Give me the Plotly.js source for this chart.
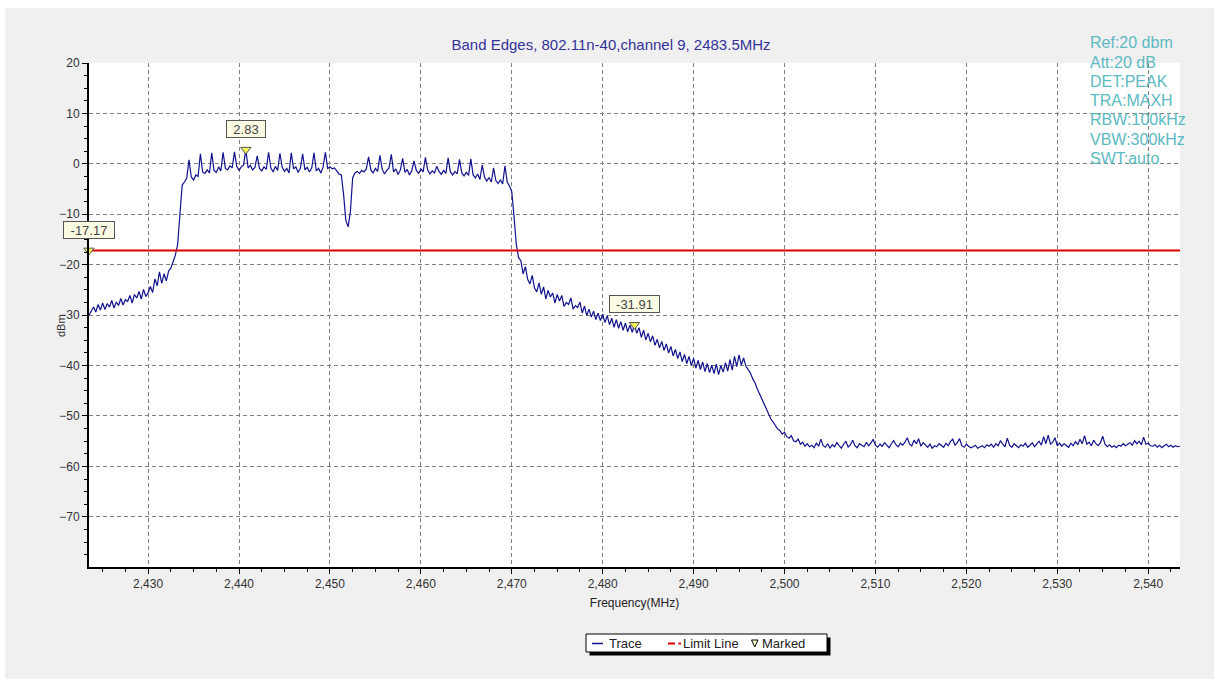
<!DOCTYPE html>
<html>
<head>
<meta charset="utf-8">
<script src="https://cdn.plot.ly/plotly-3.0.1.min.js"></script>
<style>
  html, body { margin: 0; padding: 0; background: #ffffff; }
  #chart { position: absolute; left: 5px; top: 8px; width: 1209px; height: 671px; }
</style>
</head>
<body>
<div id="chart"></div>
<script>
// ---- sweep grid (spectrum analyser span 2423.5 - 2543.5 MHz) ----
const FREQ_STEP = 0.25;
const X_RANGE = [2423.5, 2543.5];
const Y_RANGE = [-79.95, 20];

// ---- trace levels (dBm), segment by segment ----
// 2423.5 - 2433.25 MHz : lower skirt
const lowerSkirt = [-30.0,-29.3,-28.4,-29.4,-27.9,-29.0,-27.6,-28.9,-27.7,-28.4,
  -27.1,-28.6,-27.4,-28.1,-26.7,-28.0,-26.9,-27.3,-26.1,-27.6,
  -25.9,-26.6,-25.3,-26.8,-24.9,-26.3,-25.6,-24.3,-25.5,-22.8,
  -24.2,-21.4,-23.7,-21.8,-23.2,-21.3,-20.7,-19.4,-18.1,-16.0];
// 2433.5 - 2452.75 MHz : lower half of the occupied band, DC notch
const bandLower = [-9.5,-4.2,-3.6,-2.8,0.8,-2.6,-3.2,-2.2,-2.5,2.0,
  -1.6,-1.9,-1.2,-1.8,2.2,-1.3,-1.7,-0.6,-1.4,2.3,
  -0.9,-1.2,-0.4,-0.8,2.4,-0.5,-1.3,-0.6,-0.2,2.83,
  -0.8,-0.3,-1.2,-0.7,1.6,-0.9,-1.4,-0.6,-1.1,2.3,
  -0.8,-1.6,-0.5,-1.3,2.1,-0.7,-1.5,-0.9,-1.8,2.2,
  -1.0,-0.6,-1.7,-0.9,2.0,-1.2,-0.7,-1.6,-0.8,2.2,
  -1.4,-0.9,-1.8,-0.6,2.3,-0.9,-0.6,-1.0,-0.8,-1.4,
  -2.0,-2.2,-6.0,-11.2,-12.5,-9.5,-2.8,-1.8];
// 2453.0 - 2470.0 MHz : upper half of the occupied band
const bandUpper = [-1.5,-1.9,-1.3,-1.6,-1.0,1.4,-1.2,-1.8,-0.9,-1.5,
  1.7,-1.1,-2.0,-1.3,-0.8,1.9,-1.6,-1.0,-2.1,-1.2,
  1.1,-1.7,-1.1,-2.2,-1.4,0.6,-1.3,-1.9,-1.0,-1.6,
  1.3,-1.2,-2.0,-1.4,-1.8,-0.5,-1.5,-2.1,-1.3,-1.9,
  1.2,-1.6,-2.2,-1.5,-2.0,0.9,-1.8,-2.4,-1.7,-2.3,
  1.0,-2.2,-2.8,-2.0,-3.1,-0.2,-2.6,-3.4,-2.7,-3.6,
  -0.8,-3.3,-3.9,-3.2,-4.0,-0.4,-3.6,-4.4,-5.5];
// 2470.25 - 2502.75 MHz : upper band edge and roll-off
const upperEdge = [-10.5,-16.0,-18.6,-19.2,-21.8,-20.4,-22.9,-23.8,-22.1,-24.6,
  -25.4,-23.6,-25.9,-24.4,-26.8,-25.1,-26.4,-25.6,-27.6,-25.9,
  -27.2,-26.1,-28.3,-27.5,-27.9,-26.6,-28.8,-28.1,-28.5,-27.4,
  -29.6,-28.2,-30.1,-28.8,-30.4,-29.2,-30.9,-29.6,-31.1,-29.8,
  -31.5,-30.1,-31.9,-30.6,-32.4,-30.9,-32.6,-31.3,-33.0,-31.6,
  -33.3,-32.0,-33.4,-31.91,-33.6,-32.5,-34.4,-33.0,-34.9,-33.6,
  -35.3,-34.1,-36.0,-34.8,-36.5,-35.2,-37.0,-35.7,-37.5,-36.2,
  -38.1,-36.8,-38.6,-37.3,-39.2,-37.8,-39.6,-38.2,-40.0,-38.6,
  -40.5,-39.0,-40.8,-39.3,-41.2,-39.6,-41.4,-39.9,-41.6,-39.7,
  -41.8,-40.0,-41.3,-39.4,-41.1,-38.8,-40.9,-38.2,-40.2,-37.9,
  -39.9,-38.5,-40.1,
  -40.8,-41.5,-42.6,-43.4,-44.6,-45.6,-46.8,-47.5,-48.6,-49.6,
  -50.6,-51.2,-52.0,-52.6,-52.9,-53.6,-53.2,-54.1,-54.4,-53.9,
  -54.9,-55.1,-54.6,-55.6,-55.2,-56.0,-55.5,-56.1];
// 2503.0 - 2543.5 MHz : noise floor
const noiseFloor = [-55.8,-56.3,-55.4,-56.0,-54.6,-55.9,-56.2,-55.5,-56.4,-55.7,
  -56.1,-55.3,-55.9,-56.4,-55.6,-55.0,-56.2,-55.7,-54.8,-55.9,
  -56.3,-55.5,-55.8,-56.1,-55.2,-55.9,-55.4,-54.6,-55.8,-56.2,
  -55.6,-56.0,-55.3,-55.9,-56.3,-55.5,-54.9,-55.7,-56.1,-55.4,
  -55.8,-55.2,-54.3,-55.6,-55.9,-54.8,-55.5,-54.5,-56.0,-55.3,
  -55.7,-56.2,-55.6,-56.4,-55.9,-56.1,-55.5,-55.8,-56.2,-55.4,
  -55.9,-55.1,-54.6,-55.8,-55.3,-54.5,-55.9,-56.2,-55.6,-56.0,
  -56.3,-56.1,-55.8,-56.4,-56.2,-55.9,-56.3,-55.7,-56.0,-55.6,
  -56.2,-55.5,-55.9,-54.9,-55.6,-56.1,-54.4,-55.8,-56.2,-55.5,
  -55.9,-56.3,-55.7,-56.0,-55.4,-56.2,-55.8,-55.3,-56.1,-55.6,
  -55.0,-55.8,-54.1,-55.5,-53.8,-55.6,-55.2,-54.3,-55.9,-55.4,
  -56.0,-55.5,-55.8,-56.2,-55.4,-55.9,-55.1,-55.7,-54.6,-55.5,
  -53.9,-55.6,-55.2,-55.9,-54.8,-55.5,-55.9,-55.3,-54.0,-55.6,
  -56.1,-55.7,-56.2,-55.9,-56.3,-55.8,-56.0,-55.5,-55.9,-55.6,
  -55.3,-55.8,-54.9,-55.5,-55.0,-55.7,-54.2,-55.6,-55.4,-55.9,
  -56.0,-55.7,-56.2,-55.8,-56.3,-55.9,-55.6,-56.1,-55.8,-56.2,
  -55.9,-56.1,-56.0];

const segmentStarts = [2423.5, 2433.5, 2453.0, 2470.25, 2503.0];
const segmentValues = [lowerSkirt, bandLower, bandUpper, upperEdge, noiseFloor];

// ---- limit line and markers ----
const limitLevel = -17.17;
const markerFreqs  = [2423.5, 2440.75, 2483.5];
const markerLevels = [-17.17, 2.83, -31.91];
const markerLabels = ['-17.17', '2.83', '-31.91'];

// ---- texts ----
const titleText = 'Band Edges, 802.11n-40,channel 9, 2483.5MHz';
const settingsLines = ['Ref:20 dbm', 'Att:20 dB', 'DET:PEAK', 'TRA:MAXH', 'RBW:100kHz', 'VBW:300kHz', 'SWT:auto'];
const legendNames = ['Trace', 'Limit Line', 'Marked'];

// build the sweep
const freq = [], level = [];
segmentValues.forEach((vals, s) => {
  vals.forEach((v, i) => { freq.push(segmentStarts[s] + i * FREQ_STEP); level.push(v); });
});

const FONT = 'Arial, "Liberation Sans", sans-serif';
const TRACE_COLOR = '#12128e';
const LIMIT_COLOR = '#e00000';

const traces = [
  { x: freq, y: level, type: 'scatter', mode: 'lines', name: legendNames[0],
    line: { color: TRACE_COLOR, width: 1.2 }, hoverinfo: 'skip' },
  { x: X_RANGE, y: [limitLevel, limitLevel], type: 'scatter', mode: 'lines', name: legendNames[1],
    line: { color: LIMIT_COLOR, width: 2 }, hoverinfo: 'skip' },
  { x: markerFreqs, y: markerLevels, type: 'scatter', mode: 'markers', name: legendNames[2],
    marker: { symbol: 'triangle-down', size: 9, color: '#f2f25a', line: { color: '#555555', width: 1 } },
    cliponaxis: false, hoverinfo: 'skip' }
];

// pixel helpers (plot area: x 89..1180, y 63..567 on the page)
const px2x = p => (p - 89) / 1091;
const py2y = p => (567 - p) / 504;

const labelWidths = [48, 36, 47];
const annotations = markerFreqs.map((f, i) => ({
  x: f, y: markerLevels[i], xref: 'x', yref: 'y', text: markerLabels[i],
  showarrow: false, yshift: 20.5, width: labelWidths[i], height: 14,
  bgcolor: '#fbfbe3', bordercolor: '#555555', borderwidth: 1, borderpad: 1,
  font: { family: FONT, size: 13, color: '#444444' }
}));
settingsLines.forEach((t, i) => annotations.push({
  x: px2x(1088), y: py2y(42.7 + i * 19.3), xref: 'paper', yref: 'paper', xanchor: 'left', yanchor: 'middle',
  showarrow: false, text: t, font: { family: FONT, size: 16, color: '#5cbac2' }
}));
annotations.push({
  x: px2x(61), y: py2y(326), xref: 'paper', yref: 'paper', xanchor: 'center', yanchor: 'middle',
  textangle: -90, showarrow: false, text: 'dBm', font: { family: FONT, size: 11, color: '#333333' }
});

// hand-drawn legend box (as in the source chart: small box with drop shadow)
const LEG_Y = 643.5;
const legendTextX = [607, 681, 760];
legendNames.forEach((n, i) => annotations.push({
  x: px2x(legendTextX[i]), y: py2y(LEG_Y), xref: 'paper', yref: 'paper', xanchor: 'left', yanchor: 'middle',
  showarrow: false, text: n, font: { family: FONT, size: 13, color: '#222222' }
}));

const shapes = [
  { type: 'rect', xref: 'paper', yref: 'paper', x0: px2x(589.5), x1: px2x(830.5), y0: py2y(655.5), y1: py2y(637.5),
    fillcolor: '#000000', line: { width: 0 }, layer: 'above' },
  { type: 'rect', xref: 'paper', yref: 'paper', x0: px2x(586), x1: px2x(827), y0: py2y(652), y1: py2y(634),
    fillcolor: '#ffffff', line: { color: '#000000', width: 1 }, layer: 'above' },
  { type: 'line', xref: 'paper', yref: 'paper', x0: px2x(592), x1: px2x(603), y0: py2y(LEG_Y), y1: py2y(LEG_Y),
    line: { color: TRACE_COLOR, width: 1.5 }, layer: 'above' },
  { type: 'line', xref: 'paper', yref: 'paper', x0: px2x(668), x1: px2x(675), y0: py2y(LEG_Y), y1: py2y(LEG_Y),
    line: { color: LIMIT_COLOR, width: 2 }, layer: 'above' },
  { type: 'line', xref: 'paper', yref: 'paper', x0: px2x(678.5), x1: px2x(681), y0: py2y(LEG_Y), y1: py2y(LEG_Y),
    line: { color: LIMIT_COLOR, width: 2 }, layer: 'above' },
  { type: 'path', xref: 'paper', yref: 'paper',
    path: 'M' + px2x(751.5) + ',' + py2y(640) + ' L' + px2x(758) + ',' + py2y(640) + ' L' + px2x(754.75) + ',' + py2y(647) + ' Z',
    fillcolor: '#ffffd0', line: { color: '#000000', width: 1 }, layer: 'above' }
];

const gridStyle = { showgrid: true, gridcolor: '#808080', gridwidth: 1, griddash: '4px,3px' };

const layout = {
  width: 1209, height: 671,
  margin: { l: 84, r: 34, t: 55, b: 112 },
  paper_bgcolor: '#f0f0f0', plot_bgcolor: '#ffffff',
  font: { family: FONT, size: 12, color: '#333333' },
  title: { text: titleText, x: px2x(611), xref: 'paper', xanchor: 'center', y: 1 - 37 / 671, yanchor: 'middle',
    font: { family: FONT, size: 15, color: '#33339a' } },
  xaxis: Object.assign({
    range: X_RANGE, tick0: 2430, dtick: 10, tickformat: ',', ticks: 'outside', ticklen: 5, tickwidth: 1, tickcolor: '#000',
    minor: { tick0: 2430, dtick: 2.5, ticks: 'outside', ticklen: 3, tickcolor: '#000', showgrid: false },
    showline: true, linecolor: '#000', linewidth: 2, zeroline: false,
    tickfont: { family: FONT, size: 12, color: '#333' },
    title: { text: 'Frequency(MHz)', standoff: 8, font: { family: FONT, size: 12, color: '#222' } }
  }, gridStyle),
  yaxis: Object.assign({
    range: Y_RANGE, tick0: 0, dtick: 10, ticks: 'outside', ticklen: 5, tickwidth: 1, tickcolor: '#000',
    minor: { tick0: 0, dtick: 2.5, ticks: 'outside', ticklen: 3, tickcolor: '#000', showgrid: false },
    showline: true, linecolor: '#000', linewidth: 2, zeroline: false,
    tickfont: { family: FONT, size: 12, color: '#333' }
  }, gridStyle),
  showlegend: false,
  shapes: shapes,
  annotations: annotations
};

Plotly.newPlot('chart', traces, layout, { staticPlot: true, displayModeBar: false });
</script>
</body>
</html>
